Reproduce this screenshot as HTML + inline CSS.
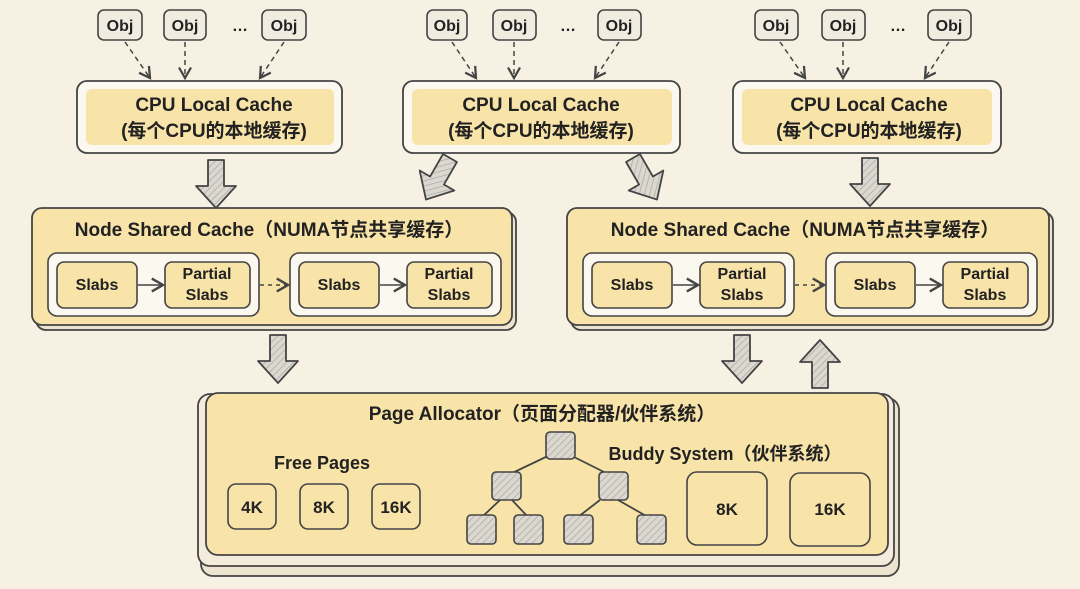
<!DOCTYPE html>
<html><head><meta charset="utf-8"><style>
html,body{margin:0;padding:0;background:#f7f1e3;}
svg{display:block}
text{font-family:"Liberation Sans","Noto Sans CJK SC",sans-serif;font-weight:bold;fill:#222;text-anchor:middle}
</style></head><body>
<svg width="1080" height="589" viewBox="0 0 1080 589" xmlns="http://www.w3.org/2000/svg">
<defs>
<pattern id="h" width="5" height="5" patternUnits="userSpaceOnUse" patternTransform="rotate(45)">
<rect width="5" height="5" fill="#dcd8cf"/><line x1="0" y1="0" x2="0" y2="5" stroke="#aaa" stroke-width="1.5"/></pattern>
<marker id="ah" markerWidth="10" markerHeight="10" refX="8" refY="5" orient="auto"><path d="M1,1 L8,5 L1,9" fill="none" stroke="#444" stroke-width="1.5"/></marker>
<g id="dn"><path d="M-8,0 H8 V26 H20 L0,48 L-20,26 H-8 Z" fill="url(#h)" stroke="#444" stroke-width="1.8" stroke-linejoin="round"/></g>
</defs>
<rect width="1080" height="589" fill="#f7f1e3"/>

<!-- Obj boxes -->
<g stroke="#444" stroke-width="1.6" fill="#f1ece0">
<rect x="98" y="10" width="44" height="30" rx="6"/><rect x="164" y="10" width="42" height="30" rx="6"/><rect x="262" y="10" width="44" height="30" rx="6"/>
<rect x="427" y="10" width="40" height="30" rx="6"/><rect x="493" y="10" width="43" height="30" rx="6"/><rect x="598" y="10" width="43" height="30" rx="6"/>
<rect x="755" y="10" width="43" height="30" rx="6"/><rect x="822" y="10" width="43" height="30" rx="6"/><rect x="928" y="10" width="43" height="30" rx="6"/>
</g>
<g font-size="16">
<text x="120" y="31">Obj</text><text x="185" y="31">Obj</text><text x="240" y="31">…</text><text x="284" y="31">Obj</text>
<text x="447" y="31">Obj</text><text x="514" y="31">Obj</text><text x="568" y="31">…</text><text x="619" y="31">Obj</text>
<text x="776" y="31">Obj</text><text x="843" y="31">Obj</text><text x="898" y="31">…</text><text x="949" y="31">Obj</text>
</g>
<g stroke="#444" stroke-width="1.5" stroke-dasharray="5,4" fill="none" marker-end="url(#ah)">
<path d="M125,42 L150,78"/><path d="M185,42 V78"/><path d="M284,42 L260,78"/>
<path d="M452,42 L476,78"/><path d="M514,42 V78"/><path d="M619,42 L595,78"/>
<path d="M780,42 L805,78"/><path d="M843,42 V78"/><path d="M949,42 L925,78"/>
</g>

<!-- CPU local caches -->
<g stroke="#444" stroke-width="1.8">
<rect x="77" y="81" width="265" height="72" rx="10" fill="#fbf8f0"/>
<rect x="403" y="81" width="277" height="72" rx="10" fill="#fbf8f0"/>
<rect x="733" y="81" width="268" height="72" rx="10" fill="#fbf8f0"/>
</g>
<g fill="#f8e3a8"><rect x="86" y="89" width="248" height="56" rx="6"/><rect x="412" y="89" width="260" height="56" rx="6"/><rect x="742" y="89" width="250" height="56" rx="6"/></g>
<g font-size="19">
<text x="214" y="111">CPU Local Cache</text><text x="214" y="137">(每个CPU的本地缓存)</text>
<text x="541" y="111">CPU Local Cache</text><text x="541" y="137">(每个CPU的本地缓存)</text>
<text x="869" y="111">CPU Local Cache</text><text x="869" y="137">(每个CPU的本地缓存)</text>
</g>

<!-- arrows to node -->
<use href="#dn" transform="translate(216,160)"/>
<use href="#dn" transform="translate(450,158) rotate(30)"/>
<use href="#dn" transform="translate(633,158) rotate(-30)"/>
<use href="#dn" transform="translate(870,158)"/>

<!-- Node shared caches -->
<g stroke="#444" stroke-width="1.8">
<rect x="36" y="212" width="480" height="118" rx="10" fill="#ece4cf"/>
<rect x="32" y="208" width="480" height="117" rx="10" fill="#f8e3a8"/>
<rect x="571" y="212" width="482" height="118" rx="10" fill="#ece4cf"/>
<rect x="567" y="208" width="482" height="117" rx="10" fill="#f8e3a8"/>
</g>
<g font-size="19"><text x="269" y="236">Node Shared Cache（NUMA节点共享缓存）</text><text x="805" y="236">Node Shared Cache（NUMA节点共享缓存）</text></g>
<g stroke="#444" stroke-width="1.6" fill="#fbf8f0">
<rect x="48" y="253" width="211" height="63" rx="9"/><rect x="290" y="253" width="211" height="63" rx="9"/>
<rect x="583" y="253" width="211" height="63" rx="9"/><rect x="826" y="253" width="211" height="63" rx="9"/>
</g>
<g stroke="#444" stroke-width="1.6" fill="#f8e3a8">
<rect x="57" y="262" width="80" height="46" rx="7"/><rect x="165" y="262" width="85" height="46" rx="7"/>
<rect x="299" y="262" width="80" height="46" rx="7"/><rect x="407" y="262" width="85" height="46" rx="7"/>
<rect x="592" y="262" width="80" height="46" rx="7"/><rect x="700" y="262" width="85" height="46" rx="7"/>
<rect x="835" y="262" width="80" height="46" rx="7"/><rect x="943" y="262" width="85" height="46" rx="7"/>
</g>
<g font-size="16">
<text x="97" y="290">Slabs</text><text x="207" y="279">Partial</text><text x="207" y="300">Slabs</text>
<text x="339" y="290">Slabs</text><text x="449" y="279">Partial</text><text x="449" y="300">Slabs</text>
<text x="632" y="290">Slabs</text><text x="742" y="279">Partial</text><text x="742" y="300">Slabs</text>
<text x="875" y="290">Slabs</text><text x="985" y="279">Partial</text><text x="985" y="300">Slabs</text>
</g>
<g stroke="#444" stroke-width="1.6" fill="none" marker-end="url(#ah)">
<path d="M138,285 H163"/><path d="M380,285 H405"/><path d="M673,285 H698"/><path d="M916,285 H941"/>
<path d="M260,285 H288" stroke-dasharray="4,4"/><path d="M795,285 H824" stroke-dasharray="4,4"/>
</g>

<!-- arrows to page allocator -->
<use href="#dn" transform="translate(278,335)"/>
<use href="#dn" transform="translate(742,335)"/>
<use href="#dn" transform="translate(820,388) rotate(180)"/>

<!-- Page allocator -->
<g stroke="#444" stroke-width="1.8">
<rect x="201" y="398" width="698" height="178" rx="12" fill="#ece4cf"/>
<rect x="198" y="394" width="696" height="172" rx="12" fill="#f3ecdc"/>
<rect x="206" y="393" width="682" height="162" rx="12" fill="#f8e3a8"/>
</g>
<text x="542" y="420" font-size="19">Page Allocator（页面分配器/伙伴系统）</text>
<text x="322" y="469" font-size="18">Free Pages</text>
<text x="725" y="460" font-size="18">Buddy System（伙伴系统）</text>
<g stroke="#444" stroke-width="1.6" fill="#f8e3a8">
<rect x="228" y="484" width="48" height="45" rx="8"/><rect x="300" y="484" width="48" height="45" rx="8"/><rect x="372" y="484" width="48" height="45" rx="8"/>
<rect x="687" y="472" width="80" height="73" rx="10"/><rect x="790" y="473" width="80" height="73" rx="10"/>
</g>
<g font-size="17">
<text x="252" y="513">4K</text><text x="324" y="513">8K</text><text x="396" y="513">16K</text>
<text x="727" y="515">8K</text><text x="830" y="515">16K</text>
</g>
<g stroke="#444" stroke-width="1.8" fill="none">
<path d="M550,455 L508,475 M570,455 L610,475 M500,500 L482,517 M512,500 L528,517 M600,500 L578,517 M618,500 L648,517"/>
</g>
<g stroke="#444" stroke-width="1.6" fill="url(#h)">
<rect x="546" y="432" width="29" height="27" rx="4"/>
<rect x="492" y="472" width="29" height="28" rx="4"/><rect x="599" y="472" width="29" height="28" rx="4"/>
<rect x="467" y="515" width="29" height="29" rx="4"/><rect x="514" y="515" width="29" height="29" rx="4"/>
<rect x="564" y="515" width="29" height="29" rx="4"/><rect x="637" y="515" width="29" height="29" rx="4"/>
</g>
</svg>
</body></html>
